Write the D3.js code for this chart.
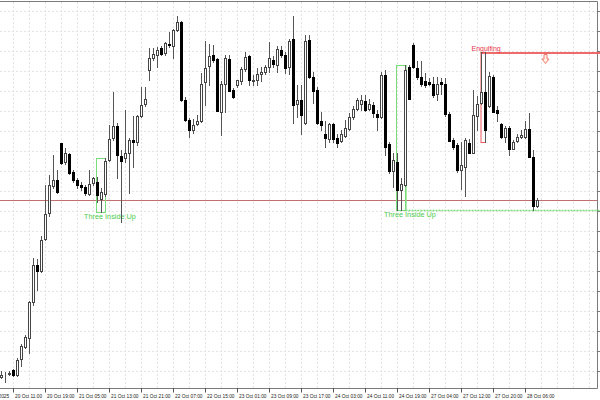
<!DOCTYPE html>
<html><head><meta charset="utf-8">
<script src="https://cdn.jsdelivr.net/npm/d3@7"></script>
<style>html,body{margin:0;padding:0;background:#fff;}svg{display:block;}</style>
</head><body>
<svg id="chart" width="600" height="400"></svg>
<script>
// H1 candles (arbitrary price points)
const opens = [23.5,27,26,30.5,25.5,41,53.5,62,98,135,129,161,187,214,220.5,256.5,238,246,228,220,215.5,213,206.5,217,218.5,201,206,240.5,262,274,244,242,247,260,258.5,284,296,329.5,342,345,351.5,347,356.5,353.5,370.5,377.5,300.5,280,270,276.5,279.5,317.5,334,345,340.5,288.5,316,340.5,310,315,318.5,330.5,344,318.5,319.5,326,327.5,333.5,340,335,350,345,333.5,361.5,296,300.5,277.5,360,323.5,310.5,278.5,266,261.5,276.5,262.5,259.5,264.5,271.5,283,291,296,299.5,291,295.5,286,283.5,325,256,229.5,238.5,210,215,333,355,331.5,323.5,318.5,317.5,316.5,306,317.5,316.5,286.5,260,255,230,232.5,257.5,247.5,284,297.5,307.5,294,323.5,290,276.5,263,272.5,251.5,259.5,263.5,263.5,270.5,243.5,194];
const highs = [29,28.5,29,31.5,42,56,65,98.5,141.5,141,163.5,215,225,245,230.5,257,252,247,230,221.5,218.5,215,230,223.5,223,212,242.5,275,308.5,277,250.5,290,262,284,285,313.5,313.5,351.5,351.5,352.5,354,358.5,368.5,371.5,384,378.5,303,282,281,285,327,359.5,356.5,355,342,318.5,345,345,312,320,333,348.5,345,325,332,333.5,335,358.5,343.5,353.5,353.5,348.5,361.5,384,315,315,365,365,328.5,313.5,288.5,278.5,277.5,277.5,266,270,280,287,293.5,302,305,305,301,298,290,328.5,330,258.5,247.5,247,222,335.5,335,357,338.5,338.5,327,322,323.5,323.5,322,322,288,262,257,258.5,262,261.5,310.5,304,348.5,348,327.5,325,293.5,277.5,274,274,260,266.5,270,278.5,287.5,250,202.5];
const lows = [22.5,18.5,25,24,24.5,34.5,52,47,95,110,128,160,183.5,212,207,236.5,236,226,218,212,210,205,205,215,198.5,188,204,239,260,222,178.5,238,207,233.5,255,283,294,320,340,333.5,345,345,353,341.5,369.5,299.5,279.5,263.5,267,275,278,295,315,338,289,265,288.5,309,302,313.5,316,329,315,315,315,318.5,326,328.5,333,328.5,343,327,326.5,277.5,283.5,266.5,276.5,322,297,276.5,270,253,258.5,258.5,253,258,263.5,270,281,290,290,289,290,283.5,270,282,245,227,213.5,190,190.5,214,301,332,321.5,314,313.5,315,303.5,300,306,284,259,251.5,228,211,204,246.5,246.5,270,296,258,293,288,278.5,262,258.5,245,251,258,262,262,243,190,193.5];
const closes = [25.5,27.5,27.5,25,40,54,63,98,135,129.5,160,186.5,215,220,207.5,237.5,246.5,227,220,215,213.5,207,216.5,221.5,205,207.5,239.5,261.5,274,245,239.5,247.5,260.5,258,284,294.5,301.5,341.5,346.5,350,346.5,357,355,370,377.5,300,280,269.5,275,279.5,316.5,332.5,343.5,340,289.5,316,341.5,309.5,303,319.5,330.5,342.5,319.5,320.5,326.5,327.5,333.5,341.5,336,350.5,345,331.5,359,295,300.5,285,359,323.5,309.5,277.5,275.5,262.5,276,261,257.5,266,272.5,282.5,291.5,300,300.5,290,296,287,282.5,325,253.5,229.5,240,210,216.5,330,301.5,333,323.5,316,315,316.5,305,316.5,315.5,286.5,259.5,253.5,230,235,260,247.5,285,296,308.5,270,324,288.5,287.5,263,272.5,251.5,258.5,263,265,271.5,243.5,194,200.5];
// time-axis labels at bar indices
const tickBars = [-5,3,11,19,27,35,43,51,59,67,75,83,91,99,107,115,123,131];
const tickLabels = ["20 Oct 2025","20 Oct 11:00","20 Oct 19:00","21 Oct 05:00","21 Oct 13:00","21 Oct 21:00","22 Oct 07:00","22 Oct 15:00","23 Oct 01:00","23 Oct 09:00","23 Oct 17:00","24 Oct 03:00","24 Oct 11:00","24 Oct 19:00","27 Oct 04:00","27 Oct 12:00","27 Oct 20:00","28 Oct 06:00"];
// candlestick patterns: [name, firstBar, lastBar]
const bullPatterns = [["Three Inside Up",24,26],["Three Inside Up",99,101]];
const bearPatterns = [["Engulfing",120,121]];
const arrowBar = 136;

const n = closes.length;
const svg = d3.select("#chart");
const W = 600, H = 400, right = 597, bottom = 388;
const x = d3.scaleLinear().domain([0, 149]).range([1.5, 597.5]);
const y = d3.scaleLinear().domain([12, 398]).range([388, 2]);
const ry = v => Math.round(y(v));

// grid
const gridPrices = d3.range(388.5, 12, -20);
const gridBars = d3.range(3, 150, 4);
const g = svg.append("g");
g.selectAll("line.h").data(gridPrices).join("line")
  .attr("x1", 0).attr("x2", right).attr("y1", d => y(d)).attr("y2", d => y(d))
  .attr("stroke", "#e4e4e4").attr("stroke-dasharray", "2,2");
g.selectAll("line.v").data(gridBars).join("line")
  .attr("x1", d => x(d)).attr("x2", d => x(d)).attr("y1", 2).attr("y2", bottom)
  .attr("stroke", "#e4e4e4").attr("stroke-dasharray", "2,2");

// borders
svg.append("line").attr("x1",0).attr("x2",right+0.5).attr("y1",1.5).attr("y2",1.5).attr("stroke","#7a7a7a");
svg.append("line").attr("x1",right+0.5).attr("x2",right+0.5).attr("y1",1.5).attr("y2",bottom+0.5).attr("stroke","#7a7a7a");
svg.append("line").attr("x1",0).attr("x2",right+0.5).attr("y1",bottom+0.5).attr("y2",bottom+0.5).attr("stroke","#7a7a7a");
svg.selectAll("line.rt").data(gridPrices).join("line")
  .attr("x1", right+0.5).attr("x2", W).attr("y1", d => y(d)).attr("y2", d => y(d)).attr("stroke","#7a7a7a");

// time axis
const ax = svg.append("g");
ax.selectAll("line").data(tickBars).join("line")
  .attr("x1", d => x(d)).attr("x2", d => x(d)).attr("y1", bottom).attr("y2", bottom+4.5).attr("stroke","#555");
ax.selectAll("text").data(tickBars).join("text")
  .attr("x", d => x(d)+1.5).attr("y", 397.5)
  .attr("font-family","Liberation Sans, Arial, sans-serif").attr("font-size", 4.8).attr("fill","#222")
  .text((d,i) => tickLabels[i]);

// bid line
const bid = closes[n-1];
svg.append("line").attr("x1",0).attr("x2",right).attr("y1",ry(bid)+0.5).attr("y2",ry(bid)+0.5)
  .attr("stroke","#c07070").attr("stroke-width",1);

// patterns (bullish, green)
const green = "#78dc78";
bullPatterns.forEach(([name,a,b], k) => {
  const bars = d3.range(a, b+1);
  const top = ry(d3.max(bars, i => highs[i])), bot = ry(d3.min(bars, i => lows[i]));
  const x0 = x(a) - 1, x1 = x(b);
  svg.append("rect").attr("x", x0).attr("y", top+0.5).attr("width", x1 - x0).attr("height", bot - top)
    .attr("fill","none").attr("stroke", green).attr("stroke-width",1);
  if (k === 1) {
    svg.append("line").attr("x1", x1+0.5).attr("x2", x1+0.5).attr("y1", top).attr("y2", bot+1)
      .attr("stroke", green).attr("stroke-width",1.2);
    svg.append("line").attr("x1", x1).attr("x2", W).attr("y1", bot+0.5).attr("y2", bot+0.5)
      .attr("stroke", green).attr("stroke-width",1.3).attr("stroke-dasharray","2,1");
  }
  svg.append("text").attr("x", x(a) - 13.5).attr("y", bot + 7)
    .attr("font-family","Liberation Sans, Arial, sans-serif").attr("font-size", 7.3)
    .attr("fill","#4ccc4c").text(name);
});

// bearish pattern (red)
const red = "#ee5a5a";
bearPatterns.forEach(([name,a,b]) => {
  const bars = d3.range(a, b+1);
  const top = ry(d3.max(bars, i => highs[i])), bot = ry(d3.min(bars, i => lows[i]));
  const x0 = x(a) - 0.5, x1 = x(b);
  svg.append("rect").attr("x", x0).attr("y", top+0.5).attr("width", x1 - x0).attr("height", bot - top)
    .attr("fill","none").attr("stroke", red).attr("stroke-width",1);
  svg.append("line").attr("x1", x0).attr("x2", W).attr("y1", top+1).attr("y2", top+1)
    .attr("stroke", red).attr("stroke-width",2).attr("opacity",0.9);
  svg.append("text").attr("x", x(a) - 10).attr("y", top - 1.5)
    .attr("font-family","Liberation Sans, Arial, sans-serif").attr("font-size", 7)
    .attr("fill","#e8334a").text(name);
  // hollow down arrow
  const cx = x(arrowBar), t = top + 2.5;
  const p = d3.path();
  p.moveTo(cx-1.5, t); p.lineTo(cx+1.5, t); p.lineTo(cx+1.5, t+4.5); p.lineTo(cx+3.5, t+4.5);
  p.lineTo(cx, t+9); p.lineTo(cx-3.5, t+4.5); p.lineTo(cx-1.5, t+4.5); p.closePath();
  svg.append("path").attr("d", p.toString()).attr("fill","#fff0e8").attr("stroke","#f07868").attr("stroke-width",1);
});

// candles
const idx = d3.range(n);
const cg = svg.append("g");
cg.selectAll("line.wick").data(idx).join("line")
  .attr("x1", i => x(i)).attr("x2", i => x(i))
  .attr("y1", i => ry(highs[i])).attr("y2", i => ry(lows[i]) + 1)
  .attr("stroke", "#555").attr("stroke-width", 1);
cg.selectAll("rect.body").data(idx).join("rect")
  .attr("x", i => closes[i] >= opens[i] ? x(i) - 1 : x(i) - 1.5)
  .attr("y", i => {
    const t = ry(Math.max(opens[i], closes[i]));
    return closes[i] >= opens[i] ? t + 0.5 : t;
  })
  .attr("width", i => closes[i] >= opens[i] ? 2 : 3)
  .attr("height", i => {
    const t = ry(Math.max(opens[i], closes[i])), b = ry(Math.min(opens[i], closes[i]));
    return closes[i] >= opens[i] ? Math.max(0, b - t) : Math.max(1, b - t + 1);
  })
  .attr("fill", i => closes[i] >= opens[i] ? "#fff" : "#000")
  .attr("stroke", i => closes[i] >= opens[i] ? "#444" : "none")
  .attr("stroke-width", 1);
</script>
</body></html>
